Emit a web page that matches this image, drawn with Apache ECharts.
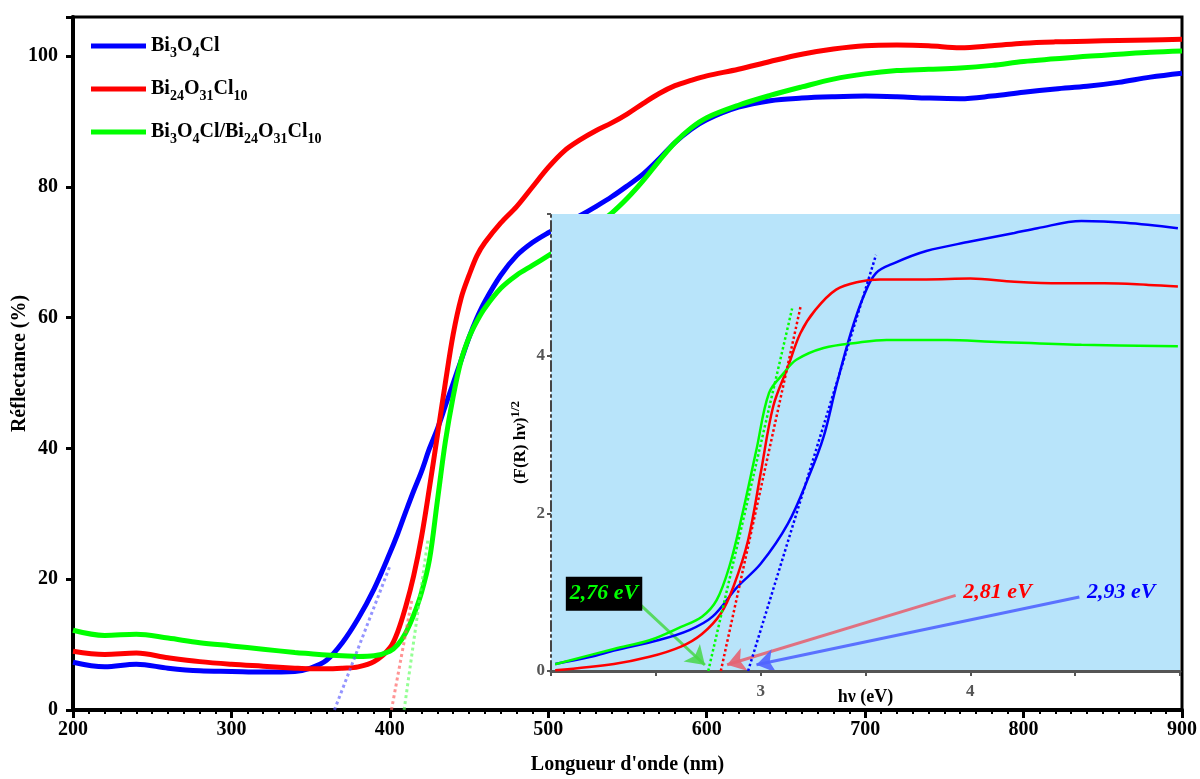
<!DOCTYPE html>
<html><head><meta charset="utf-8">
<script src="https://cdn.jsdelivr.net/npm/echarts@6/dist/echarts.min.js"></script>
<style>html,body{margin:0;padding:0;background:#fff}#c{width:1200px;height:779px}</style>
</head><body><div id="c"></div>
<script>
// ---------- main chart data ----------
const wavelengths = [200,220,240,260,280,300,320,340,350,360,370,380,390,400,405,410,415,420,425,430,435,440,445,450,455,460,470,480,490,500,510,520,530,540,550,560,570,580,590,600,620,640,660,680,700,720,740,760,780,800,820,840,860,880,900];
const reflBi3O4Cl = [7.3,6.6,7.0,6.4,6.0,5.9,5.8,5.9,6.4,7.6,10.3,14.0,18.5,24.0,27.0,30.3,33.5,36.5,40.0,43.0,46.5,50.0,53.5,57.0,60.0,62.5,66.5,69.5,71.5,73.0,74.3,75.6,77.0,78.5,80.2,82.0,84.3,86.8,88.8,90.3,92.2,93.2,93.6,93.8,93.9,93.8,93.6,93.5,93.9,94.5,95.0,95.4,96.0,96.8,97.4];
const reflBi24O31Cl10 = [9.0,8.5,8.7,8.0,7.4,7.0,6.7,6.4,6.3,6.3,6.4,6.6,7.4,9.5,12.0,15.8,20.5,26.5,34.0,42.0,50.0,57.5,63.0,66.5,69.5,71.5,74.5,77.0,80.0,83.0,85.5,87.2,88.6,89.8,91.2,92.8,94.3,95.5,96.3,97.0,98.0,99.2,100.3,101.1,101.6,101.7,101.6,101.3,101.6,102.0,102.2,102.3,102.4,102.5,102.6];
const reflComposite = [12.2,11.4,11.6,11.0,10.3,9.8,9.3,8.8,8.6,8.4,8.3,8.2,8.3,9.0,10.0,11.8,14.5,18.0,23.0,32.0,41.0,48.0,53.5,57.0,59.5,61.5,64.5,66.5,68.0,69.5,71.0,72.5,74.2,76.0,78.3,81.0,84.0,86.8,89.0,90.6,92.5,94.0,95.3,96.5,97.3,97.8,98.0,98.2,98.6,99.2,99.6,100.0,100.3,100.6,100.8];
const tangentMainBlue = [[365,0],[400,22]];
const tangentMainRed = [[401,0],[414,17]];
const tangentMainGreen = [[409,0],[424,26]];
const mainYTicks = [0,20,40,60,80,100];

// ---------- inset data (Tauc plot) ----------
const insetBlueE = [2.02,2.19,2.30,2.51,2.66,2.77,2.89,3.00,3.13,3.23,3.30,3.36,3.43,3.49,3.55,3.64,3.79,4.00,4.21,4.32,4.53,4.74,4.99];
const insetBlueF = [0.09,0.18,0.26,0.39,0.52,0.69,1.07,1.36,1.87,2.47,2.97,3.61,4.29,4.75,5.05,5.18,5.33,5.45,5.56,5.62,5.71,5.69,5.62];
const insetRedE = [2.02,2.30,2.47,2.62,2.72,2.81,2.87,2.94,3.00,3.06,3.13,3.19,3.26,3.36,3.47,3.57,3.79,4.00,4.21,4.43,4.64,4.85,4.99];
const insetRedF = [0.01,0.09,0.18,0.31,0.47,0.73,1.07,1.66,2.51,3.36,3.86,4.29,4.58,4.84,4.94,4.97,4.97,4.98,4.94,4.92,4.92,4.90,4.88];
const insetGreenE = [2.02,2.30,2.47,2.62,2.72,2.79,2.85,2.91,2.98,3.04,3.11,3.17,3.30,3.47,3.60,3.89,4.10,4.53,4.99];
const insetGreenF = [0.085,0.28,0.39,0.56,0.69,0.90,1.32,1.96,2.81,3.53,3.78,3.95,4.10,4.17,4.20,4.20,4.18,4.14,4.12];
const tangentInsetBlue = [[2.94,0],[3.55,5.28]];
const tangentInsetRed = [[2.81,0],[3.19,4.62]];
const tangentInsetGreen = [[2.75,0],[3.15,4.60]];
const insetXLabels = [3,4];
// annotations: [label, textPos, arrowStart, arrowEnd]
const gapGreen = ['2,76 eV', [2.253,0.98], [2.41,0.88], [2.734,0.076]];
const gapRed = ['2,81 eV', [4.13,1.0], [3.93,0.96], [2.84,0.08]];
const gapBlue = ['2,93 eV', [4.72,1.0], [4.52,0.94], [2.98,0.08]];

const names = ['Bi3O4Cl','Bi24O31Cl10','Bi3O4Cl/Bi24O31Cl10'];
const richNames = {
  'Bi3O4Cl': '{b|Bi}{s|3}{b|O}{s|4}{b|Cl}',
  'Bi24O31Cl10': '{b|Bi}{s|24}{b|O}{s|31}{b|Cl}{s|10}',
  'Bi3O4Cl/Bi24O31Cl10': '{b|Bi}{s|3}{b|O}{s|4}{b|Cl/Bi}{s|24}{b|O}{s|31}{b|Cl}{s|10}'
};
const FONT = "'Liberation Serif','Times New Roman',serif";
const BLUE = '#0000ff', RED = '#ff0000', GREEN = '#00ff00';

function pairs(xs, ys){ return xs.map((x,i)=>[x, ys[i]]); }

function mainLine(name, ys, color){
  return {name, type:'line', xAxisIndex:0, yAxisIndex:0, data:pairs(wavelengths, ys), showSymbol:false,
    smooth:0.35, lineStyle:{color, width:5}, itemStyle:{color}, z:2};
}
function insetLine(name, xs, ys, color){
  return {name, type:'line', xAxisIndex:1, yAxisIndex:1, data:pairs(xs, ys), showSymbol:false,
    smooth:0.35, lineStyle:{color, width:2.5}, itemStyle:{color}, z:8};
}
function tangent(data, color, xi, width, z){
  return {name:'tangent', type:'line', xAxisIndex:xi, yAxisIndex:xi, data, showSymbol:false,
    lineStyle:{color, width, type:'dotted'}, itemStyle:{color}, z, silent:true};
}
function annotation(gap, arrowColor, textColor, bg){
  return {name:'annot', type:'line', xAxisIndex:1, yAxisIndex:1, data:[], z:9, silent:true,
    markLine:{silent:true, symbol:['none','arrow'], symbolSize:18, animation:false,
      label:{show:false}, lineStyle:{color:arrowColor, width:3, type:'solid'},
      emphasis:{disabled:true},
      data:[[{coord:gap[2]},{coord:gap[3]}]]},
    markPoint:{silent:true, animation:false, data:[{coord:gap[1], symbol:'rect', symbolSize:1,
      itemStyle:{color:'rgba(0,0,0,0)'},
      label:{show:true, position:'inside', formatter:gap[0], color:textColor, fontFamily:FONT,
        fontWeight:'bold', fontStyle:'italic', fontSize:22,
        backgroundColor:bg || 'transparent', padding: bg ? [6,4,6,4] : 0}}]}
  };
}

const chart = echarts.init(document.getElementById('c'), null, {renderer:'canvas'});
chart.setOption({
  animation:false,
  backgroundColor:'#fff',
  legend:{
    data:names, orient:'vertical', left:86, top:31, itemWidth:55, itemHeight:5, itemGap:19,
    icon:'rect', formatter:n => richNames[n],
    textStyle:{rich:{
      b:{fontFamily:FONT, fontWeight:'bold', fontSize:20, color:'#000', lineHeight:28},
      s:{fontFamily:FONT, fontWeight:'bold', fontSize:14, color:'#000', lineHeight:14, verticalAlign:'bottom'}
    }}
  },
  grid:[
    {left:73, right:18, top:17, bottom:69, show:true, borderColor:'#000', borderWidth:3, backgroundColor:'transparent', outerBoundsMode:'none', containLabel:false},
    {left:551, top:214, width:629, height:457, show:true, backgroundColor:'#b8e4fa', borderWidth:0, z:5, outerBoundsMode:'none', containLabel:false}
  ],
  xAxis:[
    {type:'value', gridIndex:0, min:200, max:900, interval:100,
      axisLine:{lineStyle:{color:'#000', width:4}},
      axisTick:{length:8, lineStyle:{color:'#000', width:3}},
      minorTick:{show:true, splitNumber:10, length:4, lineStyle:{color:'#000', width:2}},
      splitLine:{show:false}, minorSplitLine:{show:false},
      axisLabel:{fontFamily:FONT, fontWeight:'bold', fontSize:20, color:'#000', margin:10},
      name:"Longueur d'onde (nm)", nameLocation:'middle', nameGap:45, nameMoveOverlap:false,
      nameTextStyle:{fontFamily:FONT, fontWeight:'bold', fontSize:20, color:'#000'}},
    {type:'value', gridIndex:1, min:2, max:5, interval:1, z:6,
      axisLine:{lineStyle:{color:'#555', width:3}},
      axisTick:{show:true, length:5, lineStyle:{color:'#555', width:2}},
      minorTick:{show:true, splitNumber:2, length:5, lineStyle:{color:'#555', width:2}},
      splitLine:{show:false}, minorSplitLine:{show:false},
      axisLabel:{formatter:v => insetXLabels.includes(v) ? String(v) : '', fontFamily:FONT, fontWeight:'bold', fontSize:17, color:'#555', margin:12},
      name:'hν (eV)', nameLocation:'middle', nameGap:17, nameMoveOverlap:false,
      nameTextStyle:{fontFamily:FONT, fontWeight:'bold', fontSize:18, color:'#000'}}
  ],
  yAxis:[
    {type:'value', gridIndex:0, min:0, max:106, interval:20,
      axisLine:{show:true, lineStyle:{color:'#000', width:4}},
      axisTick:{show:true, length:7, lineStyle:{color:'#000', width:3}},
      splitLine:{show:false},
      axisLabel:{formatter:v => mainYTicks.includes(v) ? String(v) : '', fontFamily:FONT, fontWeight:'bold', fontSize:20, color:'#000', margin:15},
      name:'Réflectance (%)', nameLocation:'middle', nameGap:43, nameRotate:90, nameMoveOverlap:false,
      nameTextStyle:{fontFamily:FONT, fontWeight:'bold', fontSize:20, color:'#000'}},
    {type:'value', gridIndex:1, min:0, max:5.8, interval:2, z:6,
      axisLine:{show:true, lineStyle:{color:'#444', width:2, type:[10,4,2,4]}},
      axisTick:{show:true, length:4, lineStyle:{color:'#555', width:2}},
      splitLine:{show:false},
      axisLabel:{formatter:v => (v % 2 === 0) ? String(v) : '', fontFamily:FONT, fontWeight:'bold', fontSize:17, color:'#555', margin:6},
      name:'{a|(F(R) hν)}{p|1/2}', nameLocation:'middle', nameGap:18, nameRotate:90, nameMoveOverlap:false,
      nameTextStyle:{rich:{
        a:{fontFamily:FONT, fontWeight:'bold', fontSize:17, color:'#000', lineHeight:24},
        p:{fontFamily:FONT, fontWeight:'bold', fontSize:13, color:'#000', lineHeight:14, verticalAlign:'top'}
      }}}
  ],
  series:[
    mainLine(names[0], reflBi3O4Cl, BLUE),
    mainLine(names[1], reflBi24O31Cl10, RED),
    mainLine(names[2], reflComposite, GREEN),
    tangent(tangentMainBlue, 'rgba(90,90,255,0.65)', 0, 3, 3),
    tangent(tangentMainRed, 'rgba(255,90,90,0.65)', 0, 3, 3),
    tangent(tangentMainGreen, 'rgba(90,255,90,0.65)', 0, 3, 3),
    insetLine(names[0], insetBlueE, insetBlueF, BLUE),
    insetLine(names[1], insetRedE, insetRedF, RED),
    insetLine(names[2], insetGreenE, insetGreenF, GREEN),
    tangent(tangentInsetBlue, BLUE, 1, 2.5, 8),
    tangent(tangentInsetRed, RED, 1, 2.5, 8),
    tangent(tangentInsetGreen, GREEN, 1, 2.5, 8),
    annotation(gapGreen, 'rgba(70,215,70,0.85)', GREEN, '#000'),
    annotation(gapRed, 'rgba(228,100,115,0.9)', RED),
    annotation(gapBlue, 'rgba(80,100,255,0.9)', BLUE)
  ]
});
</script></body></html>
